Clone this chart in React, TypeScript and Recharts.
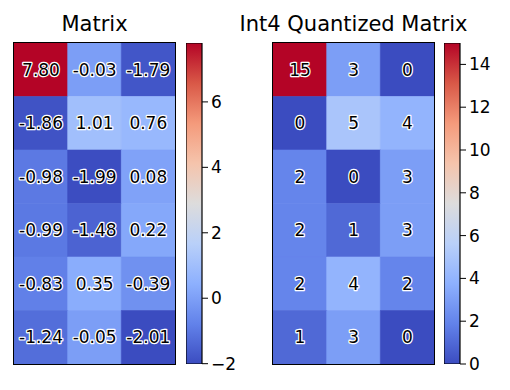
import React from "react";
import { Bar, BarChart, Cell, LabelList, XAxis, YAxis } from "recharts";

const matrix = [
  [7.8, -0.03, -1.79],
  [-1.86, 1.01, 0.76],
  [-0.98, -1.99, 0.08],
  [-0.99, -1.48, 0.22],
  [-0.83, 0.35, -0.39],
  [-1.24, -0.05, -2.01]
];

const quantized = [
  [15, 3, 0],
  [0, 5, 4],
  [2, 0, 3],
  [2, 1, 3],
  [2, 4, 2],
  [1, 3, 0]
];

const columns = ["c0", "c1", "c2"];
const matrixTicks = [-2, 0, 2, 4, 6];
const quantizedTicks = [0, 2, 4, 6, 8, 10, 12, 14];

// coolwarm, sampled
const cmapStops = [
  "#3b4cc0", "#6282ea", "#8db0fe", "#b9d0f9", "#dddcdc",
  "#f5c4ac", "#f49a7b", "#d95847", "#b40426"
];

const FONT = "DejaVu Sans, sans-serif";

function hexToRgb(h: string) {
  return [1, 3, 5].map((i) => parseInt(h.slice(i, i + 2), 16));
}

function coolwarm(t: number) {
  const c = Math.max(0, Math.min(1, t)) * (cmapStops.length - 1);
  const i = Math.min(Math.floor(c), cmapStops.length - 2);
  const f = c - i;
  const a = hexToRgb(cmapStops[i]);
  const b = hexToRgb(cmapStops[i + 1]);
  const rgb = a.map((v, k) => Math.round(v + (b[k] - v) * f));
  return `rgb(${rgb[0]},${rgb[1]},${rgb[2]})`;
}

const fmtTick = (v: number) => (v < 0 ? `\u2212${-v}` : `${v}`);

function buildRows(m: number[][]) {
  return columns.map((c, j) => {
    const row: Record<string, any> = { col: c };
    m.forEach((r, i) => {
      row[`r${i}`] = 1;
      row[`v${i}`] = r[j];
    });
    return row;
  });
}

const cellLabel = (digits: number) => (props: any) => {
  const { x, y, width, height, value } = props;
  const text = digits > 0 ? Number(value).toFixed(digits) : String(value);
  return (
    <text
      x={Number(x) + Number(width) / 2}
      y={Number(y) + Number(height) / 2}
      textAnchor="middle"
      dominantBaseline="central"
      fontFamily={FONT}
      fontSize={17}
      fill="#000"
      stroke="#fff"
      strokeWidth={2.5}
      strokeLinejoin="round"
      paintOrder="stroke"
    >
      {text}
    </text>
  );
};

interface PanelProps {
  id: string;
  title: string;
  data: number[][];
  ticks: number[];
  digits: number;
  left: number;
  cbLeft: number;
}

function Panel({ id, title, data, ticks, digits, left, cbLeft }: PanelProps) {
  const top = 43;
  const w = 161;
  const h = 321;
  const pad = 12;
  const flat = data.flat();
  const vmin = Math.min(...flat);
  const vmax = Math.max(...flat);
  const rows = buildRows(data);

  return (
    <>
      <div
        style={{
          position: "absolute",
          left: left - 40,
          width: w + 80,
          top: 14,
          lineHeight: "21px",
          fontSize: 21,
          textAlign: "center",
          whiteSpace: "nowrap"
        }}
      >
        {title}
      </div>
      <div style={{ position: "absolute", left, top }}>
        <BarChart
          width={w}
          height={h}
          data={rows}
          margin={{ top: 0, right: 0, bottom: 0, left: 0 }}
          barCategoryGap={0}
          barGap={0}
        >
          <XAxis dataKey="col" hide />
          <YAxis hide type="number" domain={[0, data.length]} reversed />
          {data.map((r, i) => (
            <Bar key={i} dataKey={`r${i}`} stackId="s" isAnimationActive={false}>
              {r.map((_, j) => {
                const fill = coolwarm((data[i][j] - vmin) / (vmax - vmin));
                return <Cell key={j} fill={fill} stroke={fill} strokeWidth={0.6} />;
              })}
              <LabelList dataKey={`v${i}`} content={cellLabel(digits)} />
            </Bar>
          ))}
        </BarChart>
      </div>
      <div
        style={{
          position: "absolute",
          left: left - 1,
          top: top - 1,
          width: w + 2,
          height: h + 2,
          border: "1.2px solid #000",
          boxSizing: "border-box",
          pointerEvents: "none"
        }}
      />
      <div style={{ position: "absolute", left: cbLeft, top: top - pad }}>
        <BarChart
          width={16 + 50}
          height={h + pad * 2}
          data={[{ name: "cb", range: [vmin, vmax] }]}
          margin={{ top: pad, right: 0, bottom: pad, left: 0 }}
          barCategoryGap={0}
        >
          <defs>
            <linearGradient id={id} x1="0" y1="1" x2="0" y2="0">
              {cmapStops.map((c, i) => (
                <stop key={i} offset={i / (cmapStops.length - 1)} stopColor={c} />
              ))}
            </linearGradient>
          </defs>
          <XAxis dataKey="name" hide />
          <YAxis
            orientation="right"
            type="number"
            domain={[vmin, vmax]}
            allowDataOverflow
            ticks={ticks}
            interval={0}
            width={50}
            tickSize={6}
            tickMargin={3}
            axisLine={false}
            tickLine={{ stroke: "#000", strokeWidth: 1 }}
            tick={{ fill: "#000", fontSize: 17, fontFamily: FONT }}
            tickFormatter={fmtTick}
          />
          <Bar
            dataKey="range"
            fill={`url(#${id})`}
            stroke="#000"
            strokeWidth={1.2}
            isAnimationActive={false}
          />
        </BarChart>
      </div>
    </>
  );
}

export default function App() {
  return (
    <div
      style={{
        position: "absolute",
        left: 0,
        top: 0,
        width: 510,
        height: 390,
        background: "#fff",
        fontFamily: FONT,
        color: "#000"
      }}
    >
      <Panel
        id="cbMatrix"
        title="Matrix"
        data={matrix}
        ticks={matrixTicks}
        digits={2}
        left={14}
        cbLeft={186}
      />
      <Panel
        id="cbQuant"
        title="Int4 Quantized Matrix"
        data={quantized}
        ticks={quantizedTicks}
        digits={0}
        left={273}
        cbLeft={444}
      />
    </div>
  );
}
